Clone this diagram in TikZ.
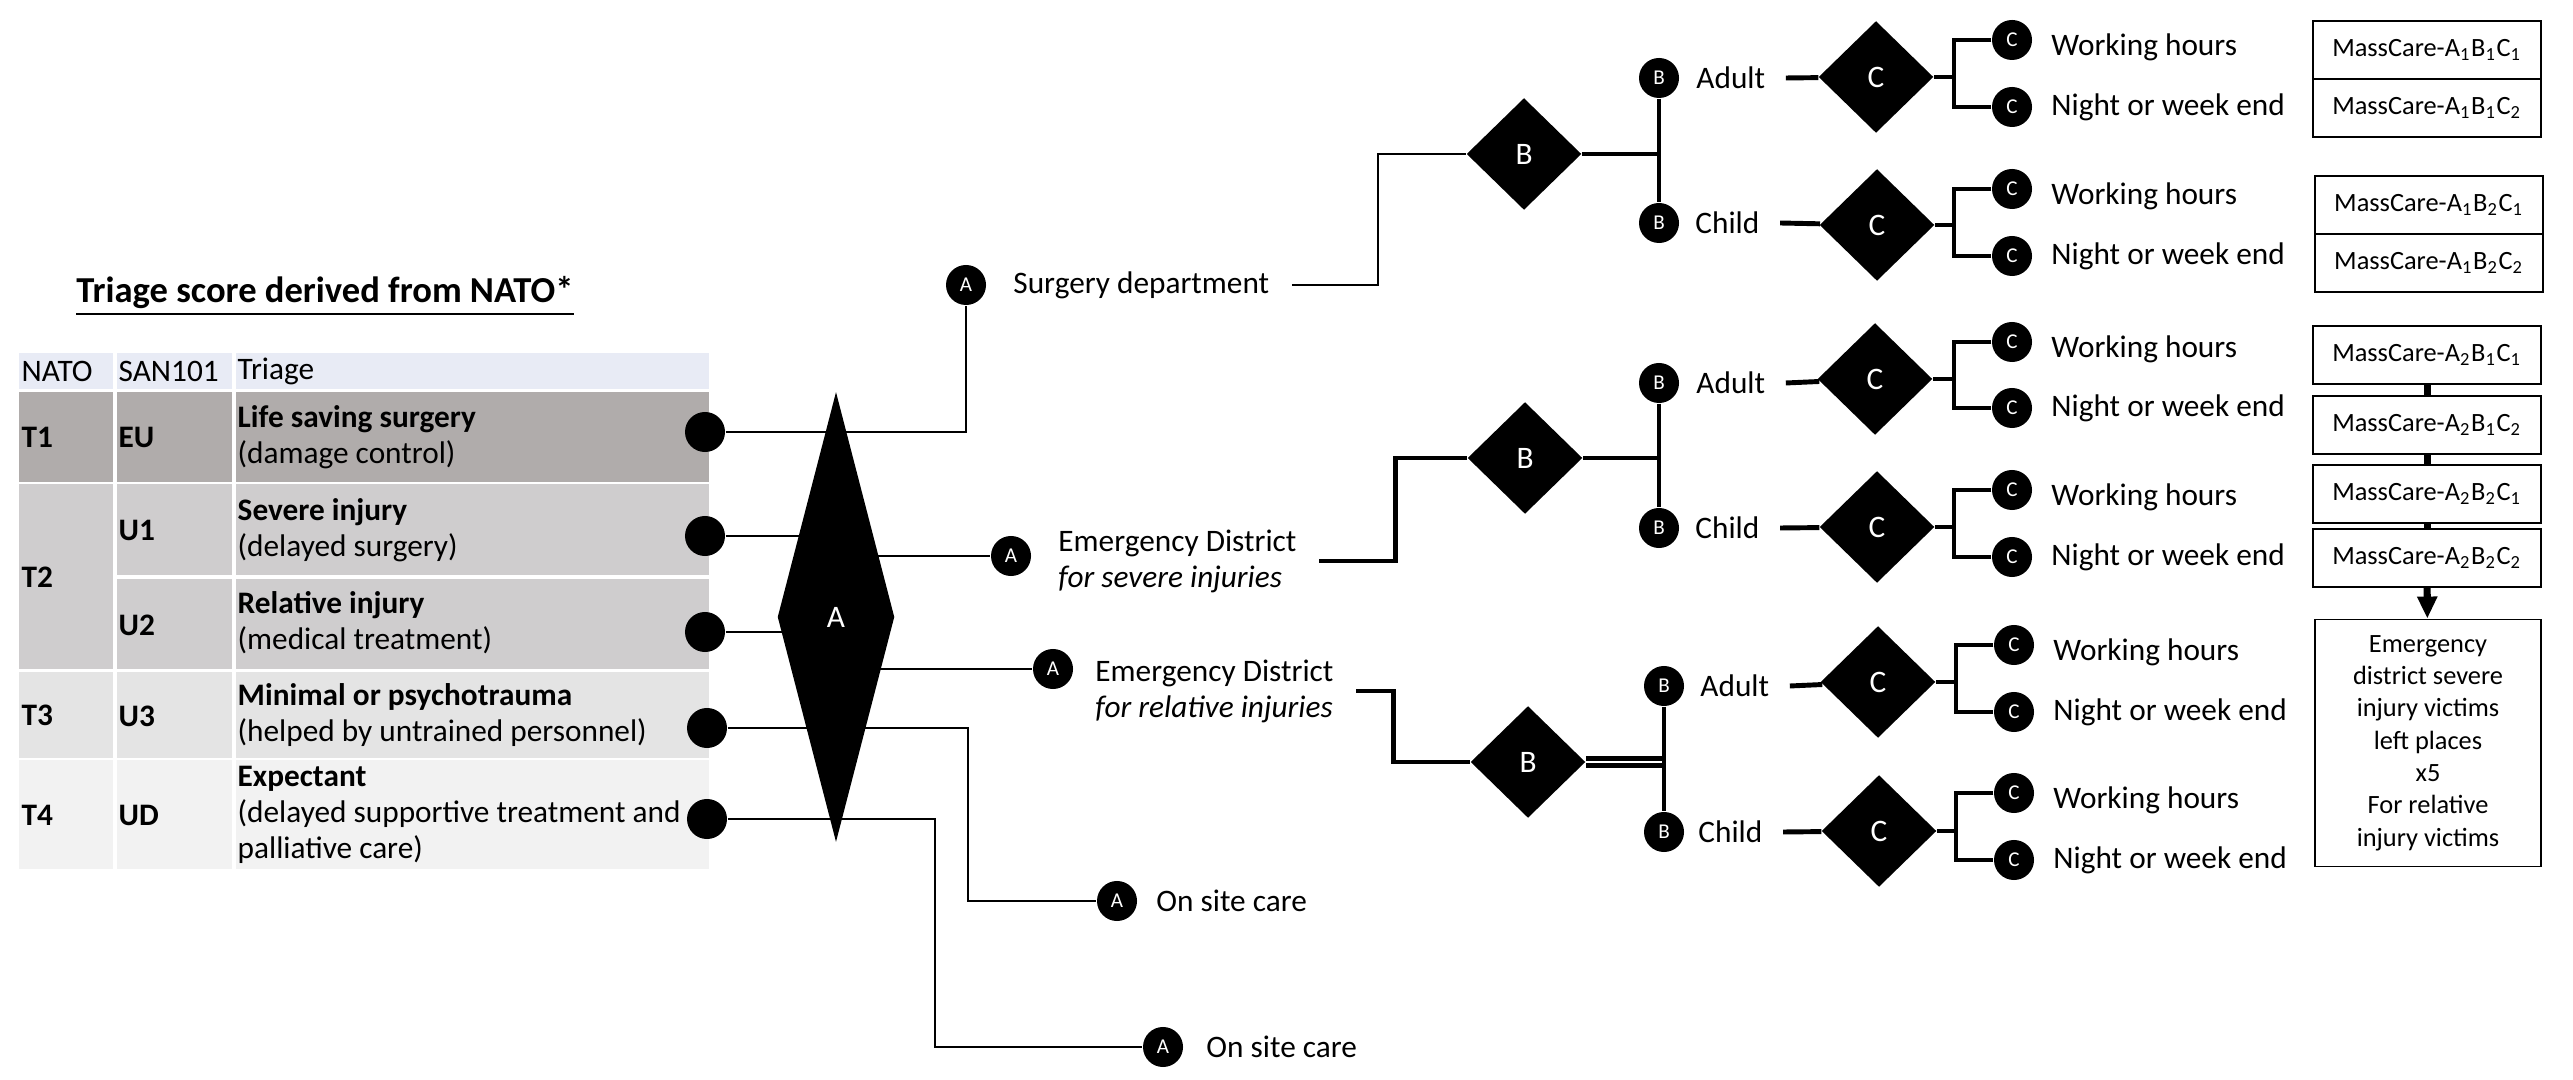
\documentclass[tikz,border=0pt]{standalone}
\usepackage{fontspec}
\setmainfont{Carlito}
\usetikzlibrary{positioning,shapes.geometric,arrows.meta,backgrounds}
\definecolor{hdrrow}{HTML}{E8EBF5}
\definecolor{tonerow}{HTML}{B0ACAB}
\definecolor{ttworow}{HTML}{CFCDCE}
\definecolor{tthreerow}{HTML}{E4E4E4}
\definecolor{tfourrow}{HTML}{F2F2F2}
\begin{document}
\begin{tikzpicture}[x=0.01cm,y=-0.01cm,
	txt/.style={inner sep=0pt,font=\fontsize{8.9}{10.2}\selectfont},
	knob/.style={circle,fill=black,text=white,minimum size=0.4cm,inner sep=0pt,font=\fontsize{6}{6}\selectfont},
	tabknob/.style={circle,fill=black,minimum size=0.4cm,inner sep=0pt},
	gate/.style={diamond,fill=black,text=white,inner sep=0pt,minimum width=1.15cm,minimum height=1.12cm,font=\fontsize{8.9}{9}\selectfont},
	wire/.style={line width=0.45pt},
	branch/.style={line width=1.4pt},
	mcbox/.style={draw,line width=0.5pt,minimum width=2.28cm,minimum height=0.58cm,inner sep=0pt,font=\fontsize{7.5}{9.2}\selectfont}]
	\useasboundingbox (0,0) rectangle (2573,1080);
	\node[anchor=base,inner sep=0pt,font=\fontsize{10.4}{12}\selectfont\bfseries] (title) at (325,303) {\underline{Triage score derived from NATO*}};
	\fill[hdrrow] (19,353) rectangle (709,389);
	\fill[tonerow] (19,392) rectangle (709,482);
	\fill[ttworow] (19,484) rectangle (709,669);
	\fill[tthreerow] (19,672) rectangle (709,758);
	\fill[tfourrow] (19,760) rectangle (709,869);
	\draw[white,line width=1pt] (115,353) -- (115,869) (234,353) -- (234,869) (115,577) -- (709,577);
	\node[txt,anchor=west] (hnato) at (21,371) {NATO};
	\node[txt,anchor=west] (hsan) at (118,371) {SAN101};
	\node[txt,anchor=west] (htri) at (237,371) {Triage};
	\node[txt,anchor=west,font=\fontsize{8.9}{10.2}\selectfont\bfseries] (n1) at (21,437) {T1};
	\node[txt,anchor=west,font=\fontsize{8.9}{10.2}\selectfont\bfseries] (n2) at (21,577) {T2};
	\node[txt,anchor=west,font=\fontsize{8.9}{10.2}\selectfont\bfseries] (n3) at (21,715) {T3};
	\node[txt,anchor=west,font=\fontsize{8.9}{10.2}\selectfont\bfseries] (n4) at (21,815) {T4};
	\node[txt,anchor=west,font=\fontsize{8.9}{10.2}\selectfont\bfseries] (s1) at (118,437) {EU};
	\node[txt,anchor=west,font=\fontsize{8.9}{10.2}\selectfont\bfseries] (s2) at (118,530) {U1};
	\node[txt,anchor=west,font=\fontsize{8.9}{10.2}\selectfont\bfseries] (s3) at (118,625) {U2};
	\node[txt,anchor=west,font=\fontsize{8.9}{10.2}\selectfont\bfseries] (s4) at (118,716) {U3};
	\node[txt,anchor=west,font=\fontsize{8.9}{10.2}\selectfont\bfseries] (s5) at (118,815) {UD};
	\node[txt,anchor=west,align=left] (r1) at (237,437) {\textbf{Life saving surgery}\\(damage control)};
	\node[txt,anchor=west,align=left] (r2) at (237,530) {\textbf{Severe injury}\\(delayed surgery)};
	\node[txt,anchor=west,align=left] (r3) at (237,623) {\textbf{Relative injury}\\(medical treatment)};
	\node[txt,anchor=west,align=left] (r4) at (237,715) {\textbf{Minimal or psychotrauma}\\(helped by untrained personnel)};
	\node[txt,anchor=west,align=left] (r5) at (237,815) {\textbf{Expectant}\\(delayed supportive treatment and\\palliative care)};
	\node[tabknob] (p1) at (705,432) {};
	\node[tabknob] (p2) at (705,536) {};
	\node[tabknob] (p3) at (705,632) {};
	\node[tabknob] (p4) at (707,728) {};
	\node[tabknob] (p5) at (707,819) {};
	\node[gate,minimum width=1.17cm,minimum height=4.5cm] (dA) at (836,617) {A};
	\node[knob] (aS) at (966,285) {A};
	\node[txt,right=0.26cm of aS] (lS) {Surgery department};
	\node[knob] (aE1) at (1011,556) {A};
	\node[txt,align=left,right=0.26cm of aE1,yshift=-0.05cm] (lE1) {Emergency District\\\textit{for severe injuries}};
	\node[knob] (aE2) at (1053,669) {A};
	\node[txt,align=left,right=0.21cm of aE2,yshift=-0.22cm] (lE2) {Emergency District\\\textit{for relative injuries}};
	\node[knob] (aO1) at (1117,901) {A};
	\node[txt,right=0.18cm of aO1] (lO1) {On site care};
	\node[knob] (aO2) at (1163,1047) {A};
	\node[txt,right=0.22cm of aO2] (lO2) {On site care};
	\draw[wire] (p1) -| (aS);
	\draw[wire] (p4) -- ++(261,0) |- (aO1);
	\draw[wire] (p5) -- ++(228,0) |- (aO2);
	\begin{scope}[on background layer]
		\draw[wire] (p2) -- (p2 -| dA);
		\draw[wire] (p3) -- (p3 -| dA);
		\draw[wire] (aE1 -| dA) -- (aE1);
		\draw[wire] (aE2 -| dA) -- (aE2);
	\end{scope}
	\node[gate] (dB1) at (1524,154) {B};
	\node[knob] (b1a) at (1659,78) {B};
	\node[knob] (b1c) at (1659,223) {B};
	\node[txt,right=0.16cm of b1a] (l1a) {Adult};
	\node[txt,right=0.15cm of b1c] (l1c) {Child};
	\node[gate] (c1a) at (1876,77) {C};
	\node[gate] (c1c) at (1877,225) {C};
	\node[gate] (dB2) at (1525,458) {B};
	\node[knob] (b2a) at (1659,383) {B};
	\node[knob] (b2c) at (1659,528) {B};
	\node[txt,right=0.16cm of b2a] (l2a) {Adult};
	\node[txt,right=0.15cm of b2c] (l2c) {Child};
	\node[gate] (c2a) at (1875,379) {C};
	\node[gate] (c2c) at (1877,527) {C};
	\node[gate] (dB3) at (1528,762) {B};
	\node[knob] (b3a) at (1664,686) {B};
	\node[knob] (b3c) at (1664,832) {B};
	\node[txt,right=0.15cm of b3a] (l3a) {Adult};
	\node[txt,right=0.13cm of b3c] (l3c) {Child};
	\node[gate] (c3a) at (1878,682) {C};
	\node[gate] (c3c) at (1879,831) {C};
	\draw[wire] ([xshift=0.22cm]lS.east) -- ++(86,0) |- (dB1);
	\draw[branch] ([xshift=0.22cm]lE1.east) -- ++(76,0) |- (dB2);
	\draw[branch] ([xshift=0.22cm]lE2.east) -- ++(37,0) |- (dB3);
	\draw[branch] (dB1) -- (dB1 -| b1a);
	\draw[branch] (dB2) -- (dB2 -| b2a);
	\draw[line width=1.35pt,double,double distance=0.55pt] (dB3) -- (dB3 -| b3a);
	\draw[branch] (b1a) -- (b1c);
	\draw[branch] (b2a) -- (b2c);
	\draw[branch] (b3a) -- (b3c);
	\foreach \g in {1a,1c,2a,2c,3a,3c}
		\draw[branch] ([xshift=0.2cm]l\g.east) -- (c\g);
	\foreach \g/\x/\ya/\yb in {1a/2012/40/107,1c/2012/189/256,2a/2012/342/408,2c/2012/490/557,3a/2014/645/712,3c/2014/793/860}{
		\node[knob] (kw\g) at (\x,\ya) {C};
		\node[knob] (kn\g) at (\x,\yb) {C};
		\node[txt,right=0.18cm of kw\g,yshift=-0.07cm] (wh\g) {Working hours};
		\node[txt,right=0.18cm of kn\g] (nw\g) {Night or week end};
		\draw[branch] (kw\g) -- ++(-58,0) |- (kn\g);
		\draw[branch] (c\g) -- ++(78,0);
	}
	\node[mcbox] (m1) at (2427,50) {MassCare-A\textsubscript{1}B\textsubscript{1}C\textsubscript{1}};
	\node[mcbox] (m2) at (2427,108) {MassCare-A\textsubscript{1}B\textsubscript{1}C\textsubscript{2}};
	\node[mcbox] (m3) at (2429,205) {MassCare-A\textsubscript{1}B\textsubscript{2}C\textsubscript{1}};
	\node[mcbox] (m4) at (2429,263) {MassCare-A\textsubscript{1}B\textsubscript{2}C\textsubscript{2}};
	\node[mcbox] (m5) at (2427,355) {MassCare-A\textsubscript{2}B\textsubscript{1}C\textsubscript{1}};
	\node[mcbox] (m6) at (2427,425) {MassCare-A\textsubscript{2}B\textsubscript{1}C\textsubscript{2}};
	\node[mcbox] (m7) at (2427,494) {MassCare-A\textsubscript{2}B\textsubscript{2}C\textsubscript{1}};
	\node[mcbox] (m8) at (2427,558) {MassCare-A\textsubscript{2}B\textsubscript{2}C\textsubscript{2}};
	\node[mcbox,minimum width=2.26cm,minimum height=2.47cm,align=center] (em) at (2428,743) {Emergency\\district severe\\injury victims\\left places\\x5\\For relative\\injury victims};
	\draw[line width=2pt] (m5) -- (m6) (m6) -- (m7) (m7) -- (m8);
	\draw[line width=2pt,-{Triangle[width=0.19cm,length=0.22cm]}] (m8) -- (em);
\end{tikzpicture}
\end{document}
